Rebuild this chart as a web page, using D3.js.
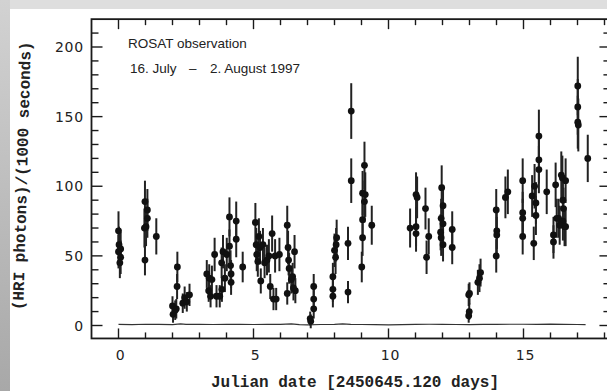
<!DOCTYPE html>
<html>
<head>
<meta charset="utf-8">
<script src="https://cdn.jsdelivr.net/npm/d3@7"></script>
<style>
    html,body{margin:0;padding:0;background:#fff;}
    svg{display:block;}
</style>
</head>
<body>
<div id="chart"></div>
<script>
// ROSAT HRI light curve
var days=[0.00,0.02,0.08,0.00,0.08,0.05,
    0.98,0.98,1.07,1.07,1.02,0.96,1.40,
    2.00,2.02,2.14,2.10,2.18,2.17,
    2.38,2.45,2.53,2.63,
    3.27,3.36,3.46,3.34,3.41,3.56,3.63,3.75,3.83,3.82,3.87,3.94,4.01,4.11,4.11,4.15,4.17,4.17,4.36,4.36,4.60,
    5.07,5.10,5.12,5.16,5.20,5.24,5.27,5.35,5.41,5.50,5.57,5.62,5.69,5.74,5.84,5.80,5.96,
    6.25,6.28,6.30,6.25,6.32,6.40,6.45,6.52,6.55,6.48,
    7.10,7.12,7.23,7.23,7.23,
    7.94,7.94,7.94,8.00,8.06,8.08,8.04,
    8.50,8.50,8.62,8.62,9.11,9.04,9.14,9.11,9.04,9.04,9.01,9.38,
    10.80,11.02,11.06,11.02,11.02,11.37,11.49,11.41,11.97,12.02,11.95,12.02,11.93,11.95,12.02,12.36,12.36,
    12.97,13.00,12.99,12.97,13.31,13.37,13.41,
    13.99,14.01,14.01,13.99,14.33,14.42,
    14.97,14.97,14.97,14.97,15.32,15.41,15.46,15.46,15.38,15.57,15.57,15.57,15.86,
    16.19,16.11,16.11,16.23,16.30,16.40,16.44,16.46,16.48,16.46,16.52,16.34,16.56,16.56,
    17.01,17.01,17.01,17.03,17.38];
var counts=[68,58,55,53,49,45,
    47,89,83,77,71,70,64,
    14,8,12,11,42,28,
    16,20,17,22,
    37,34,33,25,21,51,21,21,26,45,53,34,51,78,57,43,37,31,75,62,42,
    74,58,51,46,64,56,32,58,45,47,50,28,66,19,19,50,51,
    72,56,47,23,41,33,35,53,25,27,
    5,3,28,19,12,
    35,26,21,54,58,63,49,
    59,24,154,104,115,95,94,89,76,63,42,72,
    70,94,92,71,66,84,64,49,99,86,77,73,67,63,58,69,56,
    22,23,10,7,31,34,38,
    83,68,65,50,92,96,
    104,81,77,64,93,100,88,79,59,136,119,112,96,
    101,65,60,77,77,108,106,90,84,75,71,72,104,71,
    172,157,146,144,120];
var errs=[14,13,12,12,12,11,
    11,15,15,14,14,14,13,
    7,6,7,7,11,9,
    7,8,7,8,
    10,10,10,8,8,12,8,8,9,11,12,10,12,14,12,11,10,9,14,13,11,
    14,12,12,11,13,12,9,12,11,11,12,9,13,8,8,12,12,
    14,12,11,8,11,10,10,12,9,9,
    5,5,9,8,7,
    10,9,8,12,12,13,12,
    12,8,20,16,17,16,16,15,14,13,11,14,
    14,16,15,14,13,15,13,12,16,15,14,14,13,13,12,13,12,
    8,8,6,5,9,10,10,
    15,13,13,12,15,16,
    16,15,14,13,15,16,15,14,12,19,17,17,16,
    16,13,12,14,14,17,16,15,15,14,14,14,16,14,
    21,20,19,19,17];

// background rate (thin line near zero)
var bgDays=[0,0.5,1,1.5,2,2.3,2.5,3,3.5,4,4.5,5,5.5,6,6.4,6.7,7,7.5,8,8.3,8.6,9,9.5,10,10.5,11,11.5,12,12.5,13,13.5,14,14.5,15,15.5,16,16.5,17,17.3];
var bgCounts=[0.8,0.7,0.9,0.8,0.7,1.1,0.8,0.8,0.7,0.8,0.8,0.7,0.8,0.8,1.2,0.6,0.4,0.7,0.8,1.1,0.8,0.7,0.6,0.5,0.6,0.8,0.9,0.8,0.7,0.6,0.8,0.8,0.9,0.9,0.8,1.0,0.8,0.7,0.6];

var xMajor=[0,5,10,15];
var yMajor=[0,50,100,150,200];

var W=607,H=391;
var svg=d3.select("#chart").append("svg").attr("width",W).attr("height",H);

// grey scan border
var defs=svg.append("defs");
var grad=defs.append("linearGradient").attr("id","lg").attr("x1",0).attr("y1",0).attr("x2",0).attr("y2",1);
grad.append("stop").attr("offset","0%").attr("stop-color","#d2d2d2");
grad.append("stop").attr("offset","100%").attr("stop-color","#a8a8a8");
svg.append("rect").attr("x",0).attr("y",0).attr("width",W).attr("height",9).attr("fill","#dedede");
svg.append("rect").attr("x",0).attr("y",0).attr("width",10).attr("height",H).attr("fill","url(#lg)");

var x=d3.scaleLinear().domain([0,18]).range([118.5,604.5]);
var y=d3.scaleLinear().domain([0,200]).range([325.5,47]);

var x0=x(-1),x1=x(18.22),yTop=y(220),yBot=y(-9.3);
var ink="#1a1a1a";

// ticks, all pointing inward
var g=svg.append("g").attr("stroke",ink).attr("stroke-width",1.4);
d3.range(0,19).forEach(function(d){
    var len=xMajor.indexOf(d)>=0?10:6;
    g.append("line").attr("x1",x(d)).attr("x2",x(d)).attr("y1",yBot).attr("y2",yBot-len);
    g.append("line").attr("x1",x(d)).attr("x2",x(d)).attr("y1",yTop).attr("y2",yTop+len);
});
d3.range(0,220,10).forEach(function(d){
    var len=yMajor.indexOf(d)>=0?11:7;
    g.append("line").attr("x1",x0).attr("x2",x0+len).attr("y1",y(d)).attr("y2",y(d));
    g.append("line").attr("x1",x1).attr("x2",x1-len).attr("y1",y(d)).attr("y2",y(d));
});
svg.append("rect").attr("x",x0).attr("y",yTop).attr("width",x1-x0).attr("height",yBot-yTop)
    .attr("fill","none").attr("stroke",ink).attr("stroke-width",1.8);

// tick labels
var tickFont="'DejaVu Sans',sans-serif";
svg.selectAll(".xl").data(xMajor).enter().append("text")
    .attr("x",function(d){return x(d)+2;}).attr("y",360)
    .attr("text-anchor","middle").attr("font-family",tickFont).attr("font-size",14)
    .attr("letter-spacing",0.8).attr("fill","#222").text(function(d){return d;});
svg.selectAll(".yl").data(yMajor).enter().append("text")
    .attr("x",84).attr("y",function(d){return y(d)+5;})
    .attr("text-anchor","end").attr("font-family",tickFont).attr("font-size",14)
    .attr("letter-spacing",0.8).attr("fill","#222").text(function(d){return d;});

// axis titles
var mono="'Liberation Mono','DejaVu Sans Mono',monospace";
svg.append("text").attr("x",355).attr("y",387).attr("text-anchor","middle")
    .attr("font-family",mono).attr("font-weight","bold").attr("font-size",16).attr("fill","#222")
    .text("Julian date [2450645.120 days]");
svg.append("text").attr("transform","translate(27,176) rotate(-88.4)").attr("text-anchor","middle")
    .attr("font-family",mono).attr("font-weight","bold").attr("font-size",16).attr("fill","#222")
    .text("(HRI photons)/(1000 seconds)");

// annotation
var note=svg.append("g").attr("font-family","'Liberation Sans',sans-serif").attr("font-size",13.5).attr("fill","#222");
note.append("text").attr("x",128).attr("y",48).text("ROSAT observation");
var t2=note.append("text").attr("y",73);
t2.append("tspan").attr("x",130).text("16. July");
t2.append("tspan").attr("x",189).text("\u2013");
t2.append("tspan").attr("x",210).text("2. August 1997");

// background line
var line=d3.line().x(function(d,i){return x(bgDays[i]);}).y(function(d){return y(d);});
svg.append("path").datum(bgCounts).attr("d",line).attr("fill","none").attr("stroke","#333").attr("stroke-width",1.2);

// error bars and points
var pts=days.map(function(d,i){return {d:d,c:counts[i],e:errs[i]};});
svg.append("g").selectAll("line").data(pts).enter().append("line")
    .attr("x1",function(p){return x(p.d);}).attr("x2",function(p){return x(p.d);})
    .attr("y1",function(p){return y(p.c-p.e);}).attr("y2",function(p){return y(p.c+p.e);})
    .attr("stroke","#222").attr("stroke-width",2);
svg.append("g").selectAll("circle").data(pts).enter().append("circle")
    .attr("cx",function(p){return x(p.d);}).attr("cy",function(p){return y(p.c);})
    .attr("r",3.4).attr("fill","#111");
</script>
</body>
</html>
